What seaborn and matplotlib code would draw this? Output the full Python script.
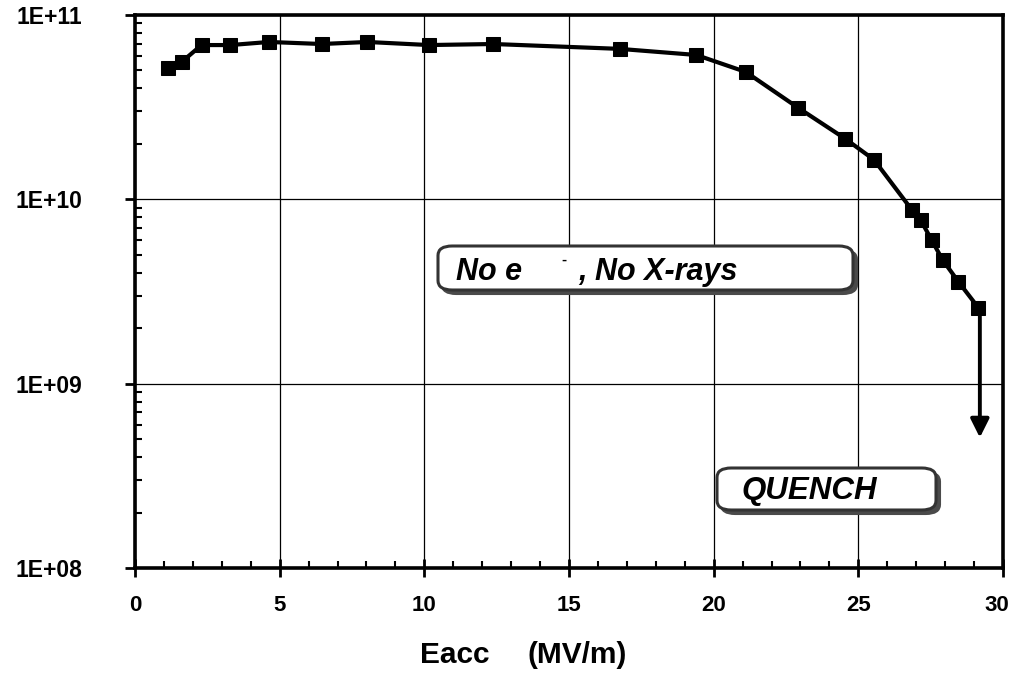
import numpy as np
import pandas as pd
import seaborn as sns
from matplotlib import pyplot as plt
from matplotlib.patches import FancyBboxPatch
from matplotlib.ticker import FixedLocator, FuncFormatter, LogLocator, MultipleLocator
from matplotlib.transforms import ScaledTranslation

# Q0 vs accelerating field
eacc = [1.13, 1.61, 2.30, 3.30, 4.63, 6.45, 8.03, 10.16, 12.39, 16.75, 19.40,
        21.11, 22.93, 24.55, 25.54, 26.85, 27.15, 27.53, 27.91, 28.46, 29.15]
q0 = [5.16e10, 5.56e10, 6.87e10, 6.87e10, 7.14e10, 6.96e10, 7.14e10, 6.87e10,
      6.96e10, 6.55e10, 6.07e10, 4.91e10, 3.13e10, 2.13e10, 1.64e10, 8.77e9,
      7.74e9, 6.03e9, 4.70e9, 3.57e9, 2.58e9]
quench_x = 29.2
quench_y = [2.35e9, 5.1e8]
x_ticks = [0, 5, 10, 15, 20, 25, 30]
y_ticks = [1e8, 1e9, 1e10, 1e11]

sns.set_style('white')
plt.rcParams['font.family'] = ['Liberation Sans', 'DejaVu Sans']
plt.rcParams.update({'text.color': 'black', 'axes.labelcolor': 'black',
                     'xtick.color': 'black', 'ytick.color': 'black'})

W, H = 1013, 679
fig = plt.figure(figsize=(W / 100, H / 100), dpi=100)
ax = fig.add_axes([135 / W, 1 - 568 / H, (1003 - 135) / W, (568 - 15) / H])

df = pd.DataFrame({'Eacc': eacc, 'Q0': q0})
sns.lineplot(data=df, x='Eacc', y='Q0', ax=ax, color='black', lw=3,
             marker='s', markersize=10, markeredgecolor='black', sort=False)

ax.set_yscale('log')
ax.set_xlim(0, 30)
ax.set_ylim(1e8, 1e11)

# quench arrow
ax.annotate('', xy=(quench_x, quench_y[1]), xytext=(quench_x, quench_y[0]),
            arrowprops=dict(arrowstyle='-|>', color='black', lw=2.8,
                            mutation_scale=28, shrinkA=0, shrinkB=0))

ax.xaxis.set_major_locator(FixedLocator(x_ticks))
ax.xaxis.set_minor_locator(MultipleLocator(1))
ax.yaxis.set_major_locator(FixedLocator(y_ticks))
ax.yaxis.set_minor_locator(LogLocator(base=10, subs=np.arange(2, 10)))
ax.yaxis.set_major_formatter(FuncFormatter(lambda v, p: '1E+%02d' % round(np.log10(v))))
ax.yaxis.set_minor_formatter(FuncFormatter(lambda v, p: ''))

ax.grid(True, which='major', color='black', lw=0.9)
ax.grid(False, which='minor')
for s in ax.spines.values():
    s.set_linewidth(2.6)
    s.set_color('black')

ax.tick_params(axis='x', which='major', direction='inout', length=13, width=2,
               pad=13, labelsize=16, bottom=True)
ax.tick_params(axis='x', which='minor', direction='in', length=5, width=1.5, bottom=True)
ax.tick_params(axis='y', which='major', direction='out', length=7, width=2,
               pad=31, labelsize=16.5, left=True)
ax.tick_params(axis='y', which='minor', direction='in', length=5, width=1.5, left=True)
for lab in ax.get_xticklabels() + ax.get_yticklabels():
    lab.set_fontweight('bold')
# last x label sits a little left of its tick in the reference
last = ax.get_xticklabels()[-1]
last.set_transform(last.get_transform() + ScaledTranslation(-6 / 100, 0, fig.dpi_scale_trans))

ax.set_xlabel('')
ax.set_ylabel('')
fig.text(420 / W, 1 - 655 / H, 'Eacc', ha='left', va='center',
         fontsize=21.5, fontweight='bold')
fig.text(627 / W, 1 - 655 / H, '(MV/m)', ha='right', va='center',
         fontsize=21.5, fontweight='bold')


def shadow_box(x0, y0, x1, y1):
    # pixel coords (top-left origin) -> figure fraction
    bx, by = x0 / W, 1 - y1 / H
    bw, bh = (x1 - x0) / W, (y1 - y0) / H
    sh = FancyBboxPatch((bx + 4 / W, by - 4 / H), bw, bh,
                        boxstyle='round,pad=0,rounding_size=0.014',
                        transform=fig.transFigure, facecolor='#4a4a4a',
                        edgecolor='#4a4a4a', lw=1.5, zorder=5)
    bx_ = FancyBboxPatch((bx, by), bw, bh,
                         boxstyle='round,pad=0,rounding_size=0.014',
                         transform=fig.transFigure, facecolor='white',
                         edgecolor='#333333', lw=2.2, zorder=6)
    fig.patches.extend([sh, bx_])


shadow_box(438, 246, 853, 290)
shadow_box(717, 468, 936, 510)

txt = dict(fontsize=22, fontweight='bold', fontstyle='italic', va='center', zorder=7)
fig.text(456 / W, 1 - 272 / H, 'No e', ha='left', **txt)
fig.text(561 / W, 1 - 260 / H, '-', ha='left', fontsize=11, fontweight='bold', va='center', zorder=7)
fig.text(578 / W, 1 - 272 / H, ', No X-rays', ha='left', **txt)
fig.text(741 / W, 1 - 491 / H, 'QUENCH', ha='left', fontsize=22.5, fontweight='bold',
         fontstyle='italic', va='center', zorder=7)

fig.savefig('out.png', dpi=100)
